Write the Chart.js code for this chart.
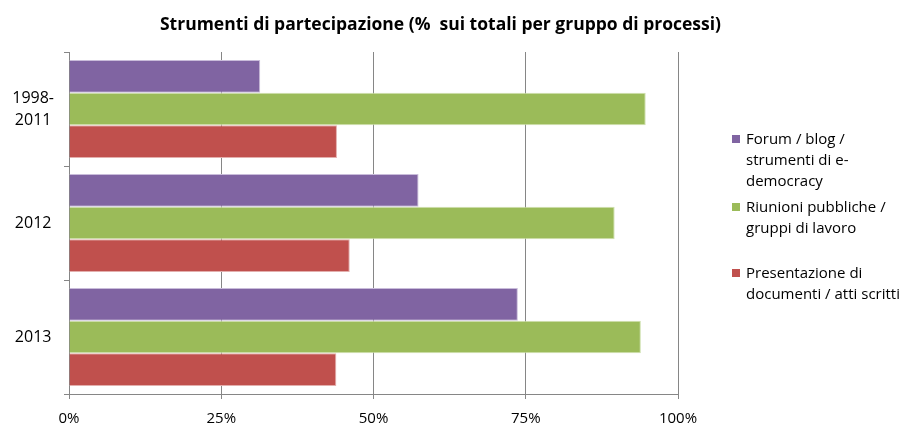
<!DOCTYPE html>
<html>
<head>
<meta charset="utf-8">
<script src="https://cdn.jsdelivr.net/npm/chart.js@4"></script>
<style>
    body { margin: 0; background: #fff; }
    #wrap { position: relative; width: 900px; height: 426px; font-family: "Open Sans", "Liberation Sans", sans-serif; }
    #titolo { position: absolute; left: 0; width: 881px; top: 11px; text-align: center; font-weight: bold; font-size: 17.5px; color: #000; }
    #legenda { position: absolute; left: 732px; top: 0; font-size: 15px; color: #000; }
    .voce { position: absolute; left: 0; white-space: nowrap; line-height: 21px; }
    .quad { position: absolute; left: 0; top: 7px; width: 8px; height: 8px; }
    .testo { position: absolute; left: 14px; top: 0; }
</style>
</head>
<body>
<div id="wrap">
    <canvas id="grafico" width="900" height="426"></canvas>
    <div id="titolo">Strumenti di partecipazione (%&nbsp; sui totali per gruppo di processi)</div>
    <div id="legenda"></div>
</div>
<script>
// Dati
const categorie = [['1998-', '2011'], '2012', '2013'];
const serieNomi = [
    ['Forum / blog /', 'strumenti di e-', 'democracy'],
    ['Riunioni pubbliche /', 'gruppi di lavoro'],
    ['Presentazione di', 'documenti / atti scritti']
];
const forum = [31.4, 57.4, 73.7];
const riunioni = [94.7, 89.6, 93.9];
const presentazione = [44.0, 46.1, 43.9];
const tickValori = [0, 25, 50, 75, 100];

const colori = ['#8064A2', '#9BBB59', '#C0504D'];
const bordi = ['#C9BCDA', '#CFE0AE', '#E3AFAD'];
const valori = [forum, riunioni, presentazione];

const ctx = document.getElementById('grafico').getContext('2d');
Chart.defaults.font.family = '"Open Sans", "Liberation Sans", sans-serif';
Chart.defaults.color = '#000';

new Chart(ctx, {
    type: 'bar',
    data: {
        labels: categorie,
        datasets: valori.map((v, i) => ({
            label: serieNomi[i].join(' '),
            data: v,
            backgroundColor: colori[i],
            borderColor: bordi[i],
            borderWidth: 1,
            categoryPercentage: 0.86,
            barPercentage: 1.0
        }))
    },
    options: {
        indexAxis: 'y',
        responsive: false,
        animation: false,
        layout: { padding: { top: 52, right: 222, left: 0, bottom: 0 } },
        plugins: {
            legend: { display: false },
            tooltip: { enabled: false }
        },
        scales: {
            x: {
                min: 0,
                max: 100,
                afterBuildTicks: (s) => { s.ticks = tickValori.map(v => ({ value: v })); },
                afterFit: (s) => { s.height = 30; },
                grid: { color: '#868686', tickLength: 5 },
                border: { color: '#868686' },
                ticks: { padding: 11, font: { size: 15 }, callback: (v) => v + '%' }
            },
            y: {
                afterFit: (s) => { s.width = 69; },
                grid: { drawOnChartArea: false, color: '#868686', tickLength: 5, offset: true },
                border: { color: '#868686' },
                ticks: { font: { size: 16, lineHeight: 1.375 }, crossAlign: 'center', padding: 10 }
            }
        }
    }
});

// Legenda a destra, con righe spezzate come nell'originale
const legenda = document.getElementById('legenda');
const topVoci = [128, 196, 262];
serieNomi.forEach((righe, i) => {
    const voce = document.createElement('div');
    voce.className = 'voce';
    voce.style.top = topVoci[i] + 'px';
    voce.innerHTML = '<div class="quad" style="background:' + colori[i] + '"></div>' +
        '<div class="testo">' + righe.join('<br>') + '</div>';
    legenda.appendChild(voce);
});
</script>
</body>
</html>
